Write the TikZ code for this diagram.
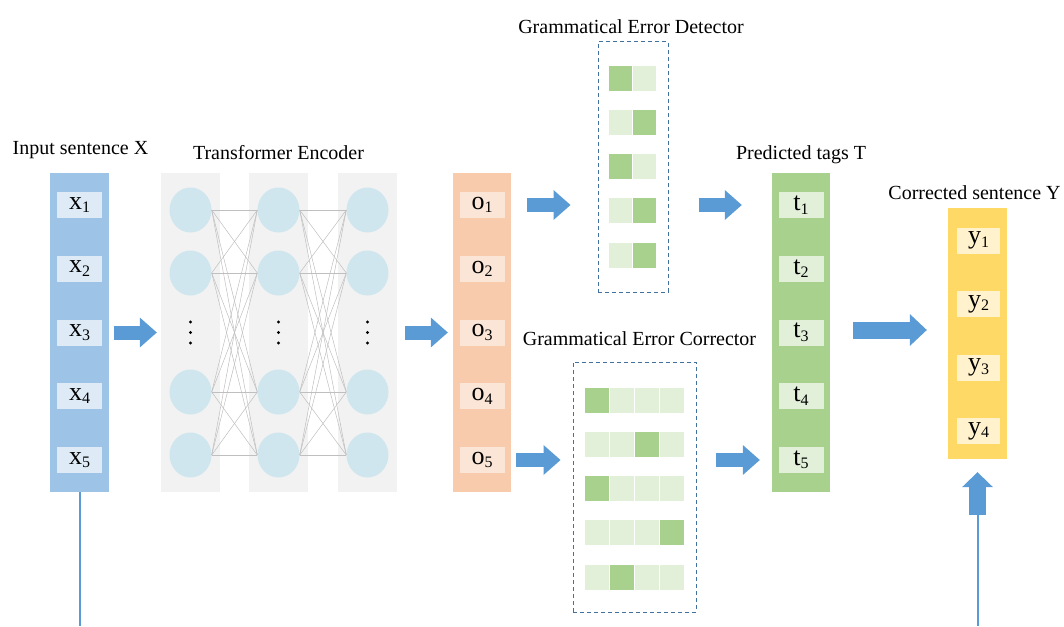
\documentclass[tikz,border=0pt]{standalone}
\usepackage{fontspec}
\setmainfont{Liberation Serif}
\usetikzlibrary{arrows.meta,shapes.geometric}
\definecolor{inblue}{RGB}{157,195,230}
\definecolor{inblueL}{RGB}{222,235,247}
\definecolor{layergray}{RGB}{242,242,242}
\definecolor{neuron}{RGB}{208,230,238}
\definecolor{outorange}{RGB}{248,203,173}
\definecolor{outorangeL}{RGB}{251,229,214}
\definecolor{tagsgreen}{RGB}{169,209,142}
\definecolor{tagsgreenL}{RGB}{226,240,217}
\definecolor{sentyellow}{RGB}{255,217,102}
\definecolor{sentyellowL}{RGB}{255,242,204}
\definecolor{flowblue}{RGB}{91,155,213}
\definecolor{dashblue}{RGB}{65,113,156}
% index below a cell letter
\newcommand{\ix}[1]{\raisebox{-3.5pt}{\fontsize{16}{16}\selectfont #1}}

\begin{document}
\begin{tikzpicture}[x=1pt,y=1pt,
  col/.style={rectangle,inner sep=0pt,minimum width=59pt,minimum height=319pt},
  cell/.style={rectangle,inner sep=0pt,minimum width=45pt,minimum height=26pt,
    font=\fontsize{26}{26}\selectfont},
  lbl/.style={font=\fontsize{20}{22}\selectfont,inner sep=0pt},
  neur/.style={ellipse,fill=neuron,inner sep=0pt,minimum width=42pt,minimum height=45pt},
  wire/.style={draw=black!25,line width=0.5pt},
  dbox/.style={rectangle,draw=dashblue,line width=1pt,dash pattern=on 4pt off 3pt},
  gcell/.style={rectangle,fill=tagsgreenL,draw=white,line width=1pt,inner sep=0pt,
    minimum width=25pt,minimum height=26pt},
  flow/.style={draw=flowblue,line width=14pt,
    -{Triangle[length=17pt 0 0,width=30pt 0 0,line width=0pt 0 0]}},
  bigflow/.style={draw=flowblue,line width=17pt,
    -{Triangle[length=17pt 0 0,width=32pt 0 0,line width=0pt 0 0]}},
  feed/.style={draw=flowblue,line width=2pt}]
\useasboundingbox (0,0) rectangle (1064,-626);

% input sentence
\node[col,fill=inblue] (inp) at (79.5,-332.5) {};
\node[cell,fill=inblueL] (x1) at (79.5,-205) {x\ix{1}};
\node[cell,fill=inblueL,below of=x1,node distance=63.75pt] (x2) {x\ix{2}};
\node[cell,fill=inblueL,below of=x2,node distance=63.75pt] (x3) {x\ix{3}};
\node[cell,fill=inblueL,below of=x3,node distance=63.75pt] (x4) {x\ix{4}};
\node[cell,fill=inblueL,below of=x4,node distance=63.75pt] (x5) {x\ix{5}};
\node[lbl,above of=inp,node distance=182pt,xshift=1pt] (inlbl) {Input sentence X};

% encoder layers
\foreach \c/\x in {1/190.5,2/278.5,3/367.5} {
  \node[col,fill=layergray] (L\c) at (\x,-332.5) {};
  \foreach \r/\y in {1/210,2/273,4/392,5/455}
    \node[neur] (n\c\r) at (\x,-\y) {};
  \foreach \y in {322,332.5,343}
    \fill (\x,-\y) circle (1.7pt);
}
\foreach \a in {1,2,4,5}
  \foreach \b in {1,2,4,5} {
    \draw[wire] (n1\a.east) -- (n2\b.west);
    \draw[wire] (n2\a.east) -- (n3\b.west);
  }
\node[lbl,above of=L2,node distance=179.5pt] (enclbl) {Transformer Encoder};

% encoder outputs
\node[col,fill=outorange,minimum width=58pt] (outp) at (482,-332.5) {};
\node[cell,fill=outorangeL] (o1) at (482,-205) {o\ix{1}};
\node[cell,fill=outorangeL,below of=o1,node distance=63.75pt] (o2) {o\ix{2}};
\node[cell,fill=outorangeL,below of=o2,node distance=63.75pt] (o3) {o\ix{3}};
\node[cell,fill=outorangeL,below of=o3,node distance=63.75pt] (o4) {o\ix{4}};
\node[cell,fill=outorangeL,below of=o4,node distance=63.75pt] (o5) {o\ix{5}};

% detector
\node[dbox,minimum width=70pt,minimum height=250pt] (det) at (633,-167) {};
\node[lbl,above of=det,node distance=140pt,xshift=-2pt] (detlbl) {Grammatical Error Detector};
\foreach \r/\d in {1/1,2/2,3/1,4/2,5/2} {
  \foreach \c in {1,2}
    \node[gcell,minimum width=24pt] (d\r\c) at ({596.5+24*\c},{-78-44.25*(\r-1)}) {};
  \node[gcell,minimum width=24pt,fill=tagsgreen] at (d\r\d) {};
}

% corrector
\node[dbox,minimum width=123pt,minimum height=250pt] (cor) at (634.5,-487) {};
\node[lbl,above of=cor,node distance=148pt,xshift=5pt] (corlbl) {Grammatical Error Corrector};
\foreach \r/\d in {1/1,2/3,3/1,4/4,5/2} {
  \foreach \c in {1,...,4}
    \node[gcell] (c\r\c) at ({571.5+25*\c},{-400-44.25*(\r-1)}) {};
  \node[gcell,fill=tagsgreen] at (c\r\d) {};
}

% predicted tags
\node[col,fill=tagsgreen,minimum width=58pt] (tags) at (801,-332.5) {};
\node[cell,fill=tagsgreenL] (t1) at (801,-205) {t\ix{1}};
\node[cell,fill=tagsgreenL,below of=t1,node distance=63.75pt] (t2) {t\ix{2}};
\node[cell,fill=tagsgreenL,below of=t2,node distance=63.75pt] (t3) {t\ix{3}};
\node[cell,fill=tagsgreenL,below of=t3,node distance=63.75pt] (t4) {t\ix{4}};
\node[cell,fill=tagsgreenL,below of=t4,node distance=63.75pt] (t5) {t\ix{5}};
\node[lbl,above of=tags,node distance=177.5pt] (tagslbl) {Predicted tags T};

% corrected sentence
\node[col,fill=sentyellow,minimum height=251pt] (sent) at (977.5,-333.5) {};
\node[cell,fill=sentyellowL,minimum width=43pt] (y1) at (978.5,-240.5) {y\ix{1}};
\node[cell,fill=sentyellowL,minimum width=43pt,below of=y1,node distance=63.5pt] (y2) {y\ix{2}};
\node[cell,fill=sentyellowL,minimum width=43pt,below of=y2,node distance=63.5pt] (y3) {y\ix{3}};
\node[cell,fill=sentyellowL,minimum width=43pt,below of=y3,node distance=63.5pt] (y4) {y\ix{4}};
\node[lbl,above of=sent,node distance=140.5pt,xshift=-3pt] (sentlbl) {Corrected sentence Y};

% flow arrows
\draw[flow,shorten <=5pt,shorten >=4pt] (x3 -| inp.east) -- (x3 -| L1.west);
\draw[flow,shorten <=8pt,shorten >=5pt] (x3 -| L3.east) -- (x3 -| outp.west);
\draw[flow,shorten <=16pt,shorten >=27pt] (o1 -| outp.east) -- (o1 -| det.west);
\draw[flow,shorten <=30pt,shorten >=30pt] (o1 -| det.east) -- (o1 -| tags.west);
\draw[flow,shorten <=5pt,shorten >=12pt] (o5 -| outp.east) -- (o5 -| cor.west);
\draw[flow,shorten <=19pt,shorten >=12pt] (o5 -| cor.east) -- (o5 -| tags.west);
\draw[bigflow,shorten <=23pt,shorten >=21pt] (tags.east |- 0,-330) -- (sent.west |- 0,-330);

% feeds along the bottom
\coordinate (inend) at (inp.south |- 0,-626);
\draw[feed] (inp.south) -- (inend);
\coordinate (ysrc) at (sent.south |- 0,-626);
\coordinate (ybase) at (sent.south |- 0,-515);
\draw[feed] (ysrc) -- (ybase);
\draw[bigflow,-{Triangle[length=15pt 0 0,width=31pt 0 0,line width=0pt 0 0]},shorten >=13pt] (ybase) -- (sent.south);
\end{tikzpicture}
\end{document}
